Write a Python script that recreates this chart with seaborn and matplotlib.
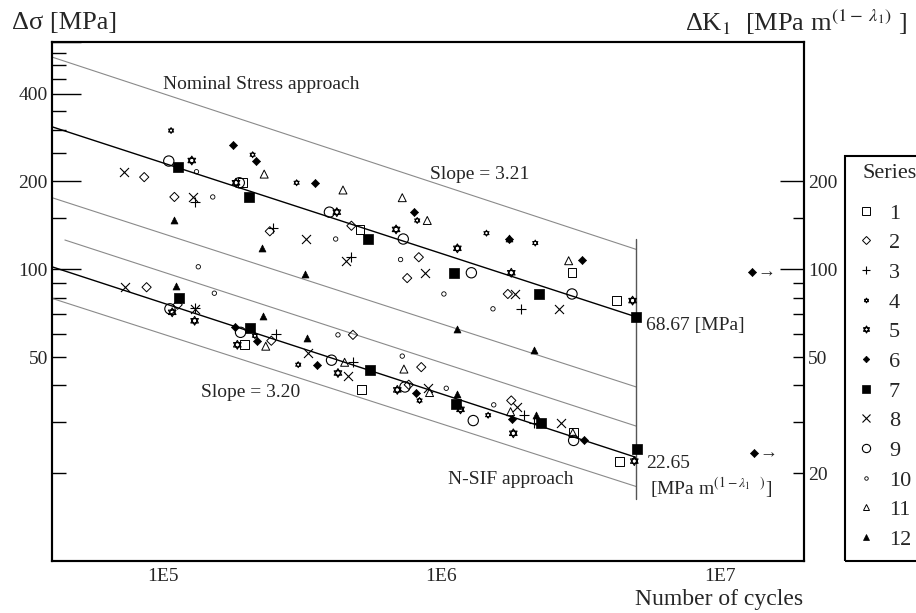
import numpy as np
import pandas as pd
import seaborn as sns
import matplotlib
matplotlib.use("Agg")
import matplotlib.pyplot as plt
from matplotlib.path import Path
from matplotlib.lines import Line2D
from matplotlib.patches import Rectangle

sns.set_theme(style="white")
plt.rcParams["font.family"] = ["Liberation Serif", "DejaVu Serif"]
plt.rcParams["mathtext.fontset"] = "stix"
plt.rcParams["axes.edgecolor"] = "black"

# -------------------------------
# DATA  (cycles, value) per series
# -------------------------------
# nominal stress approach: delta sigma [MPa]
nom_1 = [(1.93e5, 198), (5.10e5, 137), (2.94e6, 97.3), (4.26e6, 78.1)]
nom_2 = [(8.57e4, 207), (1.10e5, 177), (2.42e5, 135), (4.75e5, 141), (8.29e5, 110), (7.53e5, 93.3), (1.73e6, 82.3)]
nom_3 = [(1.30e5, 170), (2.49e5, 139), (4.72e5, 110), (1.93e6, 73.2)]
nom_4 = [(1.07e5, 299), (2.10e5, 247), (3.02e5, 198), (8.18e5, 147), (1.45e6, 133), (2.17e6, 123)]
nom_5 = [(1.27e5, 236), (1.83e5, 198), (4.21e5, 157), (6.87e5, 137), (1.14e6, 118), (1.78e6, 97.3), (4.85e6, 78.1)]
nom_6 = [(1.79e5, 267), (2.15e5, 236), (3.51e5, 198), (8.00e5, 157), (1.75e6, 127), (3.19e6, 108)]
nom_7 = [(1.13e5, 225), (2.04e5, 177), (5.44e5, 127), (1.11e6, 97.3), (2.23e6, 82.3)]
nom_8 = [(7.27e4, 216), (1.28e5, 177), (3.27e5, 127), (4.53e5, 107), (8.76e5, 97.3), (1.84e6, 82.3), (2.65e6, 73.2)]
nom_9 = [(1.05e5, 235), (1.88e5, 198), (3.96e5, 157), (7.29e5, 127), (1.28e6, 97.3), (2.94e6, 82.3)]
nom_10 = [(1.32e5, 216), (1.51e5, 177), (4.17e5, 127), (7.13e5, 108), (1.02e6, 82.3), (1.53e6, 73.2)]
nom_11 = [(2.31e5, 212), (4.43e5, 187), (7.23e5, 176), (8.89e5, 147), (2.86e6, 107)]
nom_12 = [(1.10e5, 147), (2.26e5, 118), (3.24e5, 96.5), (1.14e6, 62.6), (2.15e6, 52.9), (1.74e6, 128)]

# N-SIF approach: delta K1 [MPa m^(1-lambda1)]
nsif_1 = [(1.96e5, 55.1), (5.17e5, 38.6), (2.98e6, 27.5), (4.35e6, 22.0)]
nsif_2 = [(8.74e4, 86.8), (1.13e5, 75.6), (2.45e5, 56.9), (4.81e5, 59.6), (7.63e5, 40.2), (8.46e5, 46.2), (1.78e6, 35.5)]
nsif_3 = [(1.30e5, 73.9), (2.54e5, 60.2), (4.81e5, 48.0), (1.97e6, 31.6), (2.14e6, 29.7)]
nsif_4 = [(2.14e5, 59.2), (3.06e5, 47.1), (8.34e5, 35.5), (1.47e6, 31.6)]
nsif_5 = [(1.08e5, 71.2), (1.30e5, 66.6), (1.85e5, 55.1), (4.25e5, 44.1), (6.94e5, 38.6), (1.17e6, 33.1), (1.81e6, 27.4), (4.92e6, 22.0)]
nsif_6 = [(1.82e5, 63.6), (2.17e5, 56.9), (3.57e5, 47.1), (8.11e5, 37.8), (1.79e6, 30.6), (3.25e6, 25.9)]
nsif_7 = [(1.14e5, 80.0), (2.06e5, 63.0), (5.53e5, 45.1), (1.13e6, 34.5), (2.28e6, 29.7)]
nsif_8 = [(7.34e4, 86.8), (1.30e5, 73.2), (3.32e5, 51.5), (4.62e5, 43.2), (8.93e5, 39.2), (1.87e6, 33.6), (2.69e6, 29.7)]
nsif_9 = [(1.06e5, 73.2), (1.90e5, 60.8), (4.03e5, 48.8), (7.39e5, 39.5), (1.30e6, 30.3), (2.98e6, 25.9)]
nsif_10 = [(1.34e5, 102), (1.53e5, 82.8), (4.25e5, 59.6), (7.23e5, 50.4), (1.04e6, 39.1), (1.54e6, 34.3)]
nsif_11 = [(2.34e5, 54.5), (4.49e5, 48.0), (7.33e5, 45.5), (9.06e5, 37.8), (1.77e6, 32.5), (2.96e6, 27.5)]
nsif_12 = [(1.11e5, 87.5), (2.29e5, 69.3), (3.28e5, 58.0), (1.14e6, 37.4), (2.19e6, 31.6)]

nominal = [nom_1, nom_2, nom_3, nom_4, nom_5, nom_6, nom_7, nom_8, nom_9, nom_10, nom_11, nom_12]
nsif = [nsif_1, nsif_2, nsif_3, nsif_4, nsif_5, nsif_6, nsif_7, nsif_8, nsif_9, nsif_10, nsif_11, nsif_12]
series_names = ["1", "2", "3", "4", "5", "6", "7", "8", "9", "10", "11", "12"]

# design curves (end points at 4E4 and 5E6 cycles)
line_cycles = [4e4, 5e6]
nominal_mean = [308, 68.67]
nominal_upper = [534, 117]
nominal_lower = [176, 39.5]
nsif_mean = [102, 22.65]
nsif_upper_cycles = [4.45e4, 5e6]
nsif_upper = [126, 29.0]
nsif_lower = [79.5, 18.0]
ref_cycles = 5e6
ref_span = [16.3, 127]
end_cycles = [5e6, 5.04e6]
end_values = [68.67, 24.2]

# run-outs
runout_cycles = [1.30e7, 1.32e7]
runout_values = [97.8, 23.5]

# -------------------------------
# MARKERS
# -------------------------------
ang = np.deg2rad([90, 210, 330])
tri = np.column_stack([np.cos(ang), np.sin(ang)])
hexagram = Path(np.vstack([tri, tri[:1], -tri, -tri[:1]]),
                [Path.MOVETO, Path.LINETO, Path.LINETO, Path.CLOSEPOLY] * 2)

K = "black"
styles = [
    dict(marker="s", s=40, fc="none", lw=0.7),
    dict(marker="D", s=22, fc="none", lw=0.7),
    dict(marker="+", s=45, fc=K, lw=0.8),
    dict(marker=hexagram, s=20, fc="none", lw=0.6),
    dict(marker=hexagram, s=40, fc="none", lw=0.8),
    dict(marker="D", s=17, fc=K, lw=0.5),
    dict(marker="s", s=52, fc=K, lw=0.5),
    dict(marker="x", s=42, fc=K, lw=0.8),
    dict(marker="o", s=55, fc="none", lw=0.8),
    dict(marker="o", s=10, fc="none", lw=0.6),
    dict(marker="^", s=33, fc="none", lw=0.7),
    dict(marker="^", s=25, fc=K, lw=0.5),
]

rows = []
for name, nom, ns in zip(series_names, nominal, nsif):
    for n, v in nom:
        rows.append((name, "nominal", n, v))
    for n, v in ns:
        rows.append((name, "nsif", n, v))
df = pd.DataFrame(rows, columns=["series", "approach", "cycles", "value"])

# -------------------------------
# FIGURE
# -------------------------------
fig = plt.figure(figsize=(9.16, 6.13), dpi=100)
ax = fig.add_axes([52 / 916, 1 - 561 / 613, 752 / 916, 518.7 / 613])
ax.set_xscale("log")
ax.set_yscale("log")
ax.set_xlim(4e4, 2e7)
ax.set_ylim(10, 600)

gray = "#8a8a8a"
ax.plot(line_cycles, nominal_upper, color=gray, lw=0.8)
ax.plot(line_cycles, nominal_mean, color=K, lw=1.0)
ax.plot(line_cycles, nominal_lower, color=gray, lw=0.8)
ax.plot(nsif_upper_cycles, nsif_upper, color=gray, lw=0.8)
ax.plot(line_cycles, nsif_mean, color=K, lw=1.0)
ax.plot(line_cycles, nsif_lower, color=gray, lw=0.8)
ax.plot([ref_cycles, ref_cycles], ref_span, color="#555555", lw=1.0)

for name, st in zip(series_names, styles):
    sub = df[df["series"] == name]
    sns.scatterplot(data=sub, x="cycles", y="value", ax=ax, marker=st["marker"],
                    s=st["s"], facecolor=st["fc"], edgecolor=K, linewidth=st["lw"],
                    legend=False, zorder=3)

sns.scatterplot(x=end_cycles, y=end_values, ax=ax, marker="s", s=60,
                color=K, edgecolor=K, linewidth=0.5, legend=False, zorder=4)
sns.scatterplot(x=runout_cycles, y=runout_values, ax=ax, marker="D", s=17,
                color=K, edgecolor=K, linewidth=0.5, legend=False, zorder=4)
for n, v in zip(runout_cycles, runout_values):
    ax.text(n * 1.045, v, "→", fontsize=13, va="center", ha="left")

# texts in plot
ax.text(1e5, 429, "Nominal Stress approach", fontsize=14, va="center", ha="left")
ax.text(9.1e5, 212, "Slope = 3.21", fontsize=14, va="center", ha="left")
ax.text(5.42e6, 64.2, "68.67 [MPa]", fontsize=14, va="center", ha="left")
ax.text(1.376e5, 37.8, "Slope = 3.20", fontsize=14, va="center", ha="left")
ax.text(1.056e6, 19.0, "N-SIF approach", fontsize=14, va="center", ha="left")
ax.text(5.42e6, 21.6, "22.65", fontsize=14, va="center", ha="left")
ax.text(5.58e6, 17.9, r"[MPa m$^{(1-\lambda_1\quad)}$]", fontsize=14, va="center", ha="left")

# axes styling
for sp in ax.spines.values():
    sp.set_linewidth(1.5)
    sp.set_color(K)

ax.set_xticks([1e5, 1e6, 1e7], labels=["1E5", "1E6", "1E7"])
ax.set_xticks([m * 10 ** e for e in (4, 5, 6) for m in range(2, 10) if m * 10 ** e >= 5e4],
              minor=True)
ax.tick_params(axis="x", which="major", direction="in", length=26, width=1,
               labelsize=14, pad=5, top=False, color=K)
ax.tick_params(axis="x", which="minor", direction="in", length=9, width=1,
               top=False, color=K, labelbottom=False)

left_minor = [20, 30, 40, 50, 60, 70, 80, 90, 150, 250, 300, 350, 450, 500, 550]
ax.set_yticks([100, 200, 400, 600], labels=["100", "200", "400", ""])
ax.set_yticks(left_minor, labels=["50" if t == 50 else "" for t in left_minor], minor=True)
ax.tick_params(axis="y", which="major", direction="in", length=21, width=1,
               labelsize=14, pad=3, right=False, color=K)
ax.tick_params(axis="y", which="minor", direction="in", length=10, width=1,
               labelsize=14, pad=3, right=False, color=K)
ax.set_xlabel("")
ax.set_ylabel("")

ax2 = ax.twinx()
ax2.set_yscale("log")
ax2.set_ylim(10, 600)
right_minor = [20, 30, 40, 50, 60, 70, 80, 90, 150]
ax2.set_yticks([100, 200], labels=["100", "200"])
ax2.set_yticks(right_minor, labels=["50" if t == 50 else ("20" if t == 20 else "") for t in right_minor],
               minor=True)
ax2.tick_params(axis="y", which="major", direction="in", length=17, width=1,
                labelsize=14, pad=3, color=K)
ax2.tick_params(axis="y", which="minor", direction="in", length=8, width=1,
                labelsize=14, pad=3, color=K)
for sp in ax2.spines.values():
    sp.set_linewidth(1.5)
    sp.set_color(K)

# outer labels
fig.text(12 / 916, 1 - 23 / 613, "Δσ [MPa]", fontsize=19, va="center", ha="left")
fig.text(907 / 916, 1 - 22 / 613, r"ΔK$_1$  [MPa m$^{(1-\ \lambda_1)}$ ]",
         fontsize=19, va="center", ha="right")
fig.text(803 / 916, 1 - 600 / 613, "Number of cycles", fontsize=17, va="center", ha="right")

# legend (frame runs past the right edge of the figure)
fig.add_artist(Rectangle((845 / 916, 1 - 561 / 613), 100 / 916, 405 / 613,
                         transform=fig.transFigure, fill=False, ec=K, lw=1.5))
fig.text(862 / 916, 1 - 173 / 613, "Series", fontsize=16, va="center", ha="left")
handles = []
for st in styles:
    handles.append(Line2D([], [], ls="none", marker=st["marker"],
                          markersize=np.sqrt(st["s"]) * 0.8,
                          markerfacecolor=st["fc"], markeredgecolor=K,
                          markeredgewidth=st["lw"]))
ax.legend(handles, series_names, loc="upper left",
          bbox_to_anchor=(855 / 916, 1 - 203 / 613), bbox_transform=fig.transFigure,
          frameon=False, fontsize=16, labelspacing=0.41,
          handlelength=1.0, handletextpad=0.53, borderpad=0, borderaxespad=0)

fig.savefig("out.png", dpi=100)
